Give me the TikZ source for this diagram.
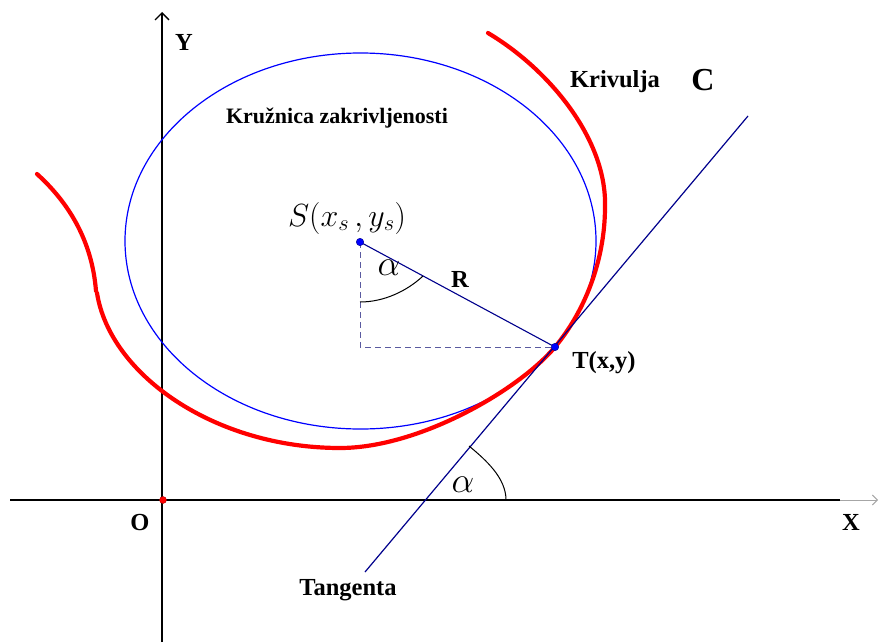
\documentclass[tikz,border=0pt]{standalone}
\usepackage{fix-cm}
\usepackage{fontspec}
\setmainfont{Liberation Serif}
\usetikzlibrary{arrows.meta}
\definecolor{curvered}{RGB}{255,0,0}
\definecolor{circblue}{RGB}{0,0,255}
\definecolor{linenavy}{RGB}{0,0,140}
\definecolor{dashgray}{RGB}{90,90,160}
\tikzset{
  axis/.style={line width=1.3pt, black},
  lbl/.style={font=\fontsize{24.5}{27}\selectfont\bfseries, inner sep=0pt},
  greek/.style={font=\fontsize{36}{38}\selectfont, inner sep=0pt},
  pointdot/.style={circle, fill=circblue, draw=linenavy, inner sep=0pt, minimum size=7.5pt},
  dsh/.style={dashgray, line width=0.9pt, dash pattern=on 6pt off 4pt},
  redcurve/.style={curvered, line width=4.2pt, line cap=round},
}
\begin{document}
\begin{tikzpicture}[x=1pt,y=-1pt]
\useasboundingbox (0,0) rectangle (880,642);
% coordinates
\coordinate (ybot) at (162,642);
\coordinate (ytop) at (162,12);
\coordinate (xl) at (10,500);
\coordinate (xm) at (840,500);
\coordinate (xr) at (878,500);
\coordinate (O) at (163,500);
\coordinate (S) at (360,242);
\coordinate (T) at (555,347);
\coordinate (F) at (360,347);
\coordinate (t1) at (365,572);
\coordinate (t2) at (748,116);
\coordinate (c1) at (37,174);
\coordinate (c2) at (96,291);
\coordinate (c3) at (97,293);
\coordinate (cb) at (340,448);
\coordinate (cr) at (605,207);
\coordinate (ce) at (488,33);
% axes
\draw[axis, -{Straight Barb[length=7pt,width=14pt,line width=1.3pt]}] (ybot) -- (ytop);
\draw[axis] (xl) -- (xm);
\draw[line width=1pt, gray!70, -{Straight Barb[length=5pt,width=10pt]}] (xm) -- (xr);
% osculating circle (ellipse due to scaling)
\draw[circblue, line width=1.2pt] (360.5,241) ellipse [x radius=235.5, y radius=188];
% curve C
\draw[redcurve] (c1) .. controls (68,202) and (92,240) .. (c2);
\draw[redcurve] (c3) .. controls (110,375) and (215,448) .. (cb)
  .. controls (420,448) and (520,389) .. (T)
  .. controls (585,311) and (605,260) .. (cr)
  .. controls (607,140) and (550,70) .. (ce);
% tangent
\draw[linenavy, line width=1.2pt] (t1) -- (t2);
% radius and dashed
\draw[linenavy, line width=1.1pt] (S) -- (T);
\draw[dsh] (S) -- (F) -- (T);
% angle arcs
\draw[black, line width=1pt] (360,302) .. controls (384,302) and (407,291) .. (423,276);
\draw[black, line width=1pt] (469,446) .. controls (486,460) and (506,478) .. (506,500);
% points
\node[pointdot] (Sd) at (S) {};
\node[pointdot] (Td) at (T) {};
\node[circle, fill=red, draw=red!70!black, inner sep=0pt, minimum size=7pt] (Od) at (O) {};
% labels
\node[lbl] (Ylab) at (184,42) {Y};
\node[lbl] (Xlab) at (851,522) {X};
\node[lbl] (Olab) at (140,523) {O};
\node[lbl] (Klab) at (615,82) {Krivulja};
\node[font=\fontsize{32}{34}\selectfont\bfseries, inner sep=0pt] (Clab) at (703,80) {C};
\node[font=\fontsize{22}{26}\selectfont\bfseries, inner sep=0pt] (kz) at (337,118) {Kružnica zakrivljenosti};
\node[lbl] (Rlab) at (460,279) {R};
\node[lbl] (Tlab) at (604,363) {T(x,y)};
\node[lbl] (tang) at (348,590) {Tangenta};
\node[font=\fontsize{32}{34}\selectfont, inner sep=0pt] (Slab) at (347,218) {$S(x_s\,,y_s)$};
\node[greek] (a1) at (389,268) {$\alpha$};
\node[greek] (a2) at (463,485) {$\alpha$};
\end{tikzpicture}
\end{document}
